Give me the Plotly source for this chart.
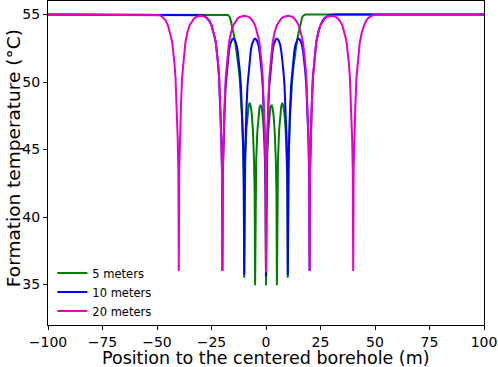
import plotly.graph_objects as go

# ---- data ----
pink_x = [-100, -52, -51, -50, -49, -48, -47, -46, -45, -44, -43.5, -43, -42.5, -42, -41.5, -41, -40.5, -40.2, -40,
          -39.8, -39.5, -39, -38.5, -38, -37.5, -37, -36.5, -36, -35, -34, -33, -32, -31, -30, -29, -28, -27, -26, -25,
          -24, -23.5, -23, -22.5, -22, -21.5, -21, -20.5, -20.2, -20,
          -19.8, -19.5, -19, -18.5, -18, -17.5, -17, -16.5, -16, -15, -14, -13, -12, -11, -10, -9, -8, -7, -6, -5,
          -4, -3.5, -3, -2.5, -2, -1.5, -1, -0.5, -0.2, 0,
          0.2, 0.5, 1, 1.5, 2, 2.5, 3, 3.5, 4, 5, 6, 7, 8, 9, 10, 11, 12, 13, 14, 15,
          16, 16.5, 17, 17.5, 18, 18.5, 19, 19.5, 19.8, 20,
          20.2, 20.5, 21, 21.5, 22, 22.5, 23, 23.5, 24, 25, 26, 27, 28, 29, 30, 31, 32, 33, 34, 35,
          36, 36.5, 37, 37.5, 38, 38.5, 39, 39.5, 39.8, 40,
          40.2, 40.5, 41, 41.5, 42, 42.5, 43, 43.5, 44, 45, 46, 47, 48, 49, 50, 51, 52, 100]
pink_t = [55, 55, 54.995, 54.98, 54.95, 54.88, 54.75, 54.55, 54.2, 53.7, 53.3, 52.9, 52.3, 51.4, 50.3, 48.3, 45.8, 43.5, 36.0,
          43.5, 45.8, 48.3, 50.3, 51.4, 52.3, 52.9, 53.3, 53.7, 54.2, 54.5, 54.7, 54.82, 54.88, 54.9, 54.88, 54.82, 54.7, 54.5, 54.2,
          53.7, 53.3, 52.9, 52.3, 51.4, 50.3, 48.3, 45.8, 43.5, 36.0,
          43.5, 45.8, 48.3, 50.3, 51.4, 52.3, 52.9, 53.3, 53.7, 54.2, 54.5, 54.7, 54.82, 54.88, 54.9, 54.88, 54.82, 54.7, 54.5, 54.2,
          53.7, 53.3, 52.9, 52.3, 51.4, 50.3, 48.3, 45.8, 43.5, 35.9,
          43.5, 45.8, 48.3, 50.3, 51.4, 52.3, 52.9, 53.3, 53.7, 54.2, 54.5, 54.7, 54.82, 54.88, 54.9, 54.88, 54.82, 54.7, 54.5, 54.2,
          53.7, 53.3, 52.9, 52.3, 51.4, 50.3, 48.3, 45.8, 43.5, 36.0,
          43.5, 45.8, 48.3, 50.3, 51.4, 52.3, 52.9, 53.3, 53.7, 54.2, 54.5, 54.7, 54.82, 54.88, 54.9, 54.88, 54.82, 54.7, 54.5, 54.2,
          53.7, 53.3, 52.9, 52.3, 51.4, 50.3, 48.3, 45.8, 43.5, 36.0,
          43.5, 45.8, 48.3, 50.3, 51.4, 52.3, 52.9, 53.3, 53.7, 54.2, 54.55, 54.75, 54.88, 54.95, 54.98, 54.995, 55, 55]

blue_x = [-100, -32, -31, -30, -29, -28, -27, -26, -25, -24, -23.5, -23, -22.5, -22, -21.5, -21, -20.5, -20.2, -20,
          -19.8, -19.5, -19, -18.5, -18, -17.5, -17, -16.5, -16, -15.5, -15, -14.5, -14, -13.5, -13, -12.5, -12, -11.5, -11, -10.5, -10.2, -10,
          -9.8, -9.5, -9, -8.5, -8, -7.5, -7, -6.5, -6, -5.5, -5, -4.5, -4, -3.5, -3, -2.5, -2, -1.5, -1, -0.5, -0.2, 0,
          0.2, 0.5, 1, 1.5, 2, 2.5, 3, 3.5, 4, 4.5, 5, 5.5, 6, 6.5, 7, 7.5, 8, 8.5, 9, 9.5, 9.8, 10,
          10.2, 10.5, 11, 11.5, 12, 12.5, 13, 13.5, 14, 14.5, 15, 15.5, 16, 16.5, 17, 17.5, 18, 18.5, 19, 19.5, 19.8, 20,
          20.2, 20.5, 21, 21.5, 22, 22.5, 23, 23.5, 24, 25, 26, 27, 28, 29, 30, 31, 32, 100]
blue_t = [55, 55, 54.995, 54.98, 54.95, 54.88, 54.75, 54.55, 54.2, 53.7, 53.3, 52.9, 52.3, 51.4, 50.3, 48.3, 45.8, 43.5, 36.0,
          43.3, 45.6, 47.9, 49.7, 50.8, 51.7, 52.3, 52.75, 53.0, 53.15, 53.2, 53.15, 53.0, 52.75, 52.3, 51.7, 50.8, 49.7, 47.9, 45.6, 43.3, 35.7,
          43.3, 45.6, 47.9, 49.7, 50.8, 51.7, 52.3, 52.75, 53.0, 53.15, 53.2, 53.15, 53.0, 52.75, 52.3, 51.7, 50.8, 49.7, 47.9, 45.6, 43.3, 35.6,
          43.3, 45.6, 47.9, 49.7, 50.8, 51.7, 52.3, 52.75, 53.0, 53.15, 53.2, 53.15, 53.0, 52.75, 52.3, 51.7, 50.8, 49.7, 47.9, 45.6, 43.3, 35.7,
          43.3, 45.6, 47.9, 49.7, 50.8, 51.7, 52.3, 52.75, 53.0, 53.15, 53.2, 53.15, 53.0, 52.75, 52.3, 51.7, 50.8, 49.7, 47.9, 45.6, 43.3, 36.0,
          43.5, 45.8, 48.3, 50.3, 51.4, 52.3, 52.9, 53.3, 53.7, 54.2, 54.55, 54.75, 54.88, 54.95, 54.98, 54.995, 55, 55]

green_x = [-100, -18, -17.5, -17, -16.5, -16, -15.5, -15, -14.5, -14, -13.5, -13, -12.5, -12, -11.5, -11, -10.5, -10.2, -10,
           -9.8, -9.5, -9, -8.5, -8, -7.5, -7, -6.5, -6, -5.5, -5.2, -5,
           -4.8, -4.5, -4, -3.5, -3, -2.5, -2, -1.5, -1, -0.5, -0.2, 0,
           0.2, 0.5, 1, 1.5, 2, 2.5, 3, 3.5, 4, 4.5, 4.8, 5,
           5.2, 5.5, 6, 6.5, 7, 7.5, 8, 8.5, 9, 9.5, 9.8, 10,
           10.2, 10.5, 11, 11.5, 12, 12.5, 13, 13.5, 14, 14.5, 15, 15.5, 16, 16.5, 17, 17.5, 18, 100]
green_t = [55, 55, 54.97, 54.9, 54.75, 54.45, 54.1, 53.7, 53.3, 52.8, 52.3, 51.7, 51.0, 50.1, 49.0, 47.4, 45.0, 42.3, 35.5,
           42.0, 44.3, 46.5, 47.6, 48.2, 48.45, 48.2, 47.6, 46.4, 44.2, 41.8, 34.95,
           41.8, 44.2, 46.3, 47.5, 48.1, 48.3, 48.1, 47.5, 46.3, 44.2, 41.8, 34.95,
           41.8, 44.2, 46.3, 47.5, 48.1, 48.3, 48.1, 47.5, 46.3, 44.2, 41.8, 34.95,
           41.8, 44.2, 46.4, 47.6, 48.2, 48.45, 48.2, 47.6, 46.5, 44.3, 42.0, 35.5,
           42.3, 45.0, 47.4, 49.0, 50.1, 51.0, 51.7, 52.3, 52.8, 53.3, 53.7, 54.1, 54.45, 54.75, 54.9, 54.97, 55, 55]

series_names = ["5 meters", "10 meters", "20 meters"]
series_colors = ["#008000", "#0000ff", "#e800c8"]

assert len(pink_x) == len(pink_t)
assert len(blue_x) == len(blue_t)
assert len(green_x) == len(green_t)

x_ticks = [-100, -75, -50, -25, 0, 25, 50, 75, 100]
y_ticks = [35, 40, 45, 50, 55]
x_title = "Position to the centered borehole (m)"
y_title = "Formation temperature (°C)"

fig = go.Figure()
for xs, ts, name, col in zip([green_x, blue_x, pink_x], [green_t, blue_t, pink_t],
                             series_names, series_colors):
    fig.add_trace(go.Scatter(x=xs, y=ts, mode="lines", name=name,
                             line=dict(color=col, width=2)))

axis_common = dict(showline=True, linecolor="black", linewidth=1, mirror=True,
                   ticks="outside", ticklen=4, tickwidth=1, tickcolor="black",
                   showgrid=False, zeroline=False, automargin=False,
                   tickfont=dict(family="DejaVu Sans", size=14, color="black"))

fig.update_layout(
    width=498, height=367,
    margin=dict(l=48, r=14, t=1, b=42, autoexpand=False),
    plot_bgcolor="white", paper_bgcolor="white",
    font=dict(family="DejaVu Sans", color="black"),
    xaxis=dict(range=[-100, 100], tickvals=x_ticks, **axis_common),
    yaxis=dict(range=[32, 56], tickvals=y_ticks, **axis_common),
    legend=dict(x=0.01, y=0.205, xanchor="left", yanchor="top",
                bgcolor="rgba(0,0,0,0)", borderwidth=0,
                font=dict(family="DejaVu Sans", size=11.5, color="black"),
                tracegroupgap=0),
    showlegend=True,
    annotations=[
        dict(text=x_title, xref="paper", yref="paper", x=0.5, y=0,
             xanchor="center", yanchor="middle", yshift=-33.3, showarrow=False,
             font=dict(family="DejaVu Sans", size=17.5, color="black")),
        dict(text=y_title, xref="paper", yref="paper", x=0, y=0.515,
             xanchor="center", yanchor="middle", xshift=-35, textangle=-90,
             showarrow=False,
             font=dict(family="DejaVu Sans", size=18.5, color="black")),
    ],
)

fig.write_html("out.html", config={"displayModeBar": False},
               post_script="document.body.style.margin='0';document.body.style.overflow='hidden';")
